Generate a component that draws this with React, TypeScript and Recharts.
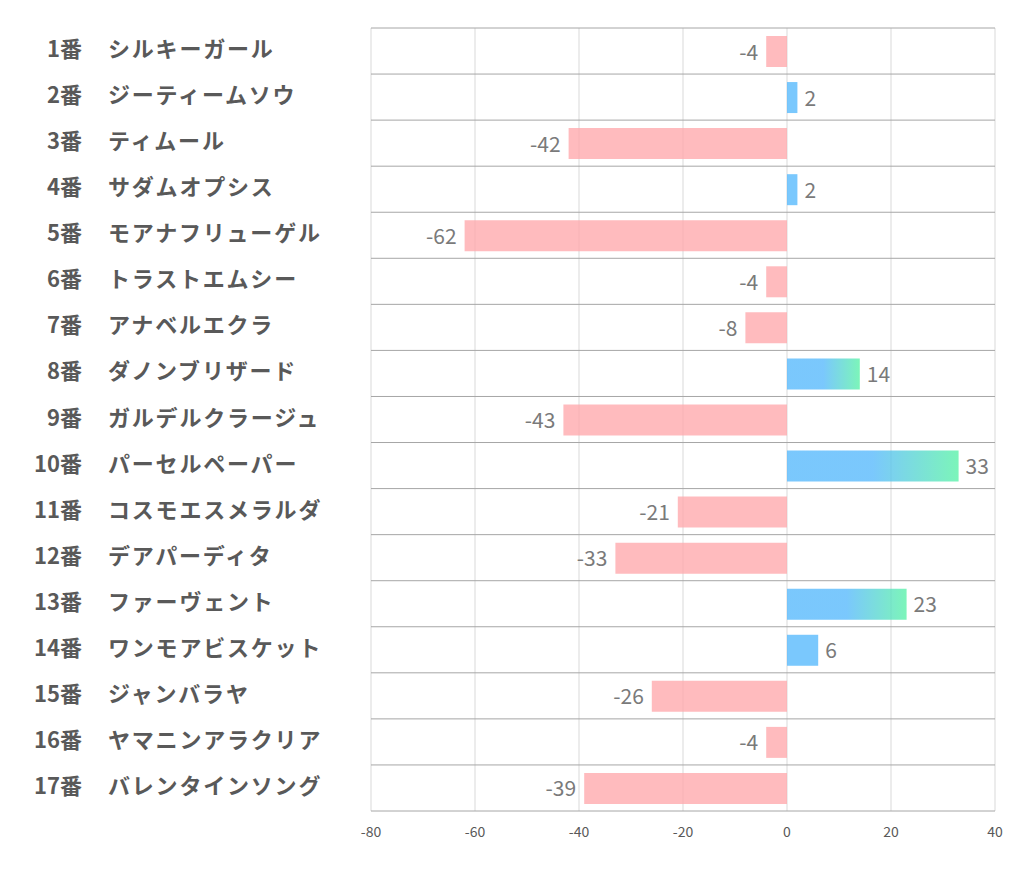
import { BarChart, Bar, XAxis, YAxis, CartesianGrid, Cell, LabelList } from 'recharts';

const numbers = ['1番', '2番', '3番', '4番', '5番', '6番', '7番', '8番', '9番', '10番', '11番', '12番', '13番', '14番', '15番', '16番', '17番'];
const horses = [
    'シルキーガール',
    'ジーティームソウ',
    'ティムール',
    'サダムオプシス',
    'モアナフリューゲル',
    'トラストエムシー',
    'アナベルエクラ',
    'ダノンブリザード',
    'ガルデルクラージュ',
    'パーセルペーパー',
    'コスモエスメラルダ',
    'デアパーディタ',
    'ファーヴェント',
    'ワンモアビスケット',
    'ジャンバラヤ',
    'ヤマニンアラクリア',
    'バレンタインソング',
];
const scores = [-4, 2, -42, 2, -62, -4, -8, 14, -43, 33, -21, -33, 23, 6, -26, -4, -39];
const xTicks = [-80, -60, -40, -20, 0, 20, 40];

const FONT = '"Noto Sans CJK JP", "Noto Sans", sans-serif';
const PINK = '#FFAAAE';
const BLUE = '#59BAFC';

const data = horses.map((name, i) => ({ key: numbers[i], num: numbers[i], name, value: scores[i] }));

function HorseTick(props: any) {
    const { y, payload } = props;
    const row = data[payload.index] ?? data.find((d) => d.key === payload.value);
    return (
        <g>
            <text x={82} y={y} dy={6} textAnchor="end" fontSize={22} fontWeight="bold" fill="#595959" fontFamily={FONT}>
                {row?.num}
            </text>
            <text x={108} y={y} dy={6} textAnchor="start" fontSize={22} fontWeight="bold" fill="#595959" fontFamily={FONT} letterSpacing={1.8}>
                {row?.name}
            </text>
        </g>
    );
}

function ValueLabel(props: any) {
    const { x, y, width, height, value } = props;
    const left = Math.min(x, x + width);
    const right = Math.max(x, x + width);
    const neg = value < 0;
    return (
        <text
            x={neg ? left - 8 : right + 7}
            y={y + height / 2}
            dy={8}
            textAnchor={neg ? 'end' : 'start'}
            fontSize={21}
            fill="#7a7a7a"
            fontFamily={FONT}
        >
            {value}
        </text>
    );
}

export default function App() {
    const n = data.length;
    return (
        <div style={{ position: 'absolute', left: 0, top: 0, background: '#fff' }}>
            <BarChart
                width={1022}
                height={887}
                data={data}
                layout="vertical"
                margin={{ top: 28, right: 27, bottom: 46, left: 0 }}
                barSize={31}
            >
                <defs>
                    <linearGradient id="blueGreen" x1="0" y1="0" x2="1" y2="0">
                        <stop offset="0%" stopColor={BLUE} />
                        <stop offset="50%" stopColor={BLUE} />
                        <stop offset="100%" stopColor="#5BF2A8" />
                    </linearGradient>
                </defs>
                <CartesianGrid horizontal={false} stroke="#d9d9d9" ticks={xTicks} />
                <CartesianGrid
                    vertical={false}
                    stroke="#a6a6a6"
                    horizontalCoordinatesGenerator={({ offset }: any) =>
                        Array.from({ length: n + 1 }, (_, i) => offset.top + (offset.height * i) / n)
                    }
                />
                <XAxis
                    type="number"
                    domain={[-80, 40]}
                    ticks={xTicks}
                    axisLine={false}
                    tickLine={false}
                    height={30}
                    tickMargin={10}
                    tick={{ fontSize: 14, fill: '#595959', fontFamily: FONT }}
                />
                <YAxis
                    type="category"
                    dataKey="key"
                    width={371}
                    axisLine={false}
                    tickLine={false}
                    tick={<HorseTick />}
                    interval={0}
                />
                <Bar dataKey="value" isAnimationActive={false} fillOpacity={0.8}>
                    {data.map((d, i) => (
                        <Cell key={`cell-${i}`} fill={d.value < 0 ? PINK : d.value >= 10 ? 'url(#blueGreen)' : BLUE} />
                    ))}
                    <LabelList dataKey="value" content={<ValueLabel />} />
                </Bar>
            </BarChart>
        </div>
    );
}
